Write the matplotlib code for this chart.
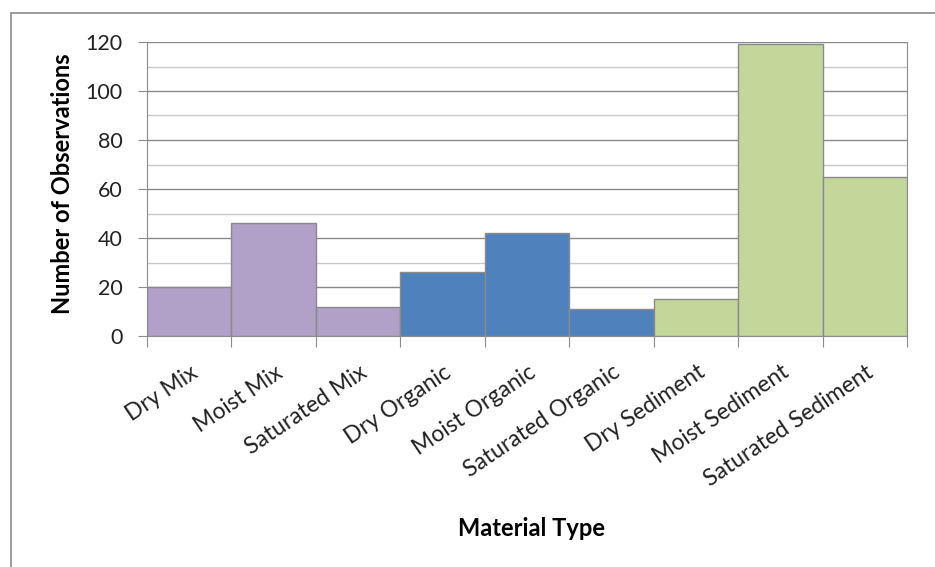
import numpy as np
import matplotlib
matplotlib.use('Agg')
import matplotlib.pyplot as plt
from matplotlib.patches import Rectangle
from matplotlib.ticker import MultipleLocator

# Data
categories = ['Dry Mix', 'Moist Mix', 'Saturated Mix',
              'Dry Organic', 'Moist Organic', 'Saturated Organic',
              'Dry Sediment', 'Moist Sediment', 'Saturated Sediment']
counts = [20, 46, 12, 26, 42, 11, 15, 119, 65]
groups = ['Mix', 'Mix', 'Mix', 'Organic', 'Organic', 'Organic',
          'Sediment', 'Sediment', 'Sediment']
y_ticks = [0, 20, 40, 60, 80, 100, 120]

group_color = {'Mix': '#b1a0c7', 'Organic': '#4f81bd', 'Sediment': '#c4d79b'}

plt.rc('font', family=['Lato', 'DejaVu Sans'])

fig = plt.figure(figsize=(9.35, 5.67), dpi=100)
ax = fig.add_axes([147/935, 1 - 336/567, 760/935, 294/567])

# outer chart border
fig.patches.append(Rectangle((11/935, -0.1), 1.2, 1 - 13/567 + 0.1,
                             transform=fig.transFigure, fill=False,
                             edgecolor='#8c8c8c', lw=1.2))

x = np.arange(len(categories))
ax.bar(x, counts, width=1.0, align='edge',
       color=[group_color[g] for g in groups],
       edgecolor='#8a8a8a', linewidth=1.0, zorder=3)

ax.set_xlim(0, len(categories))
ax.set_ylim(0, 120)
ax.set_yticks(y_ticks)
ax.yaxis.set_minor_locator(MultipleLocator(10))
ax.grid(which='major', axis='y', color='#8a8a8a', lw=1.0, zorder=0)
ax.grid(which='minor', axis='y', color='#c8c8c8', lw=1.0, zorder=0)
ax.tick_params(axis='y', which='major', length=6.5, color='#8c8c8c',
               labelsize=15.5, pad=11, labelcolor='#222222')
ax.tick_params(axis='y', which='minor', length=0)

# category boundary ticks below the axis
ax.set_xticks(np.arange(len(categories) + 1))
ax.set_xticklabels([])
ax.tick_params(axis='x', length=8, color='#8c8c8c')
for i, name in enumerate(categories):
    ax.text(i + 0.58, -14, name, rotation=34, rotation_mode='anchor',
            ha='right', va='center', fontsize=16.5, color='#222222')

for s in ['left', 'right', 'bottom']:
    ax.spines[s].set_color('#8c8c8c')
ax.spines['top'].set_visible(False)

fig.text(62/935, 1 - 184/567, 'Number of Observations', rotation=90,
         fontsize=17, fontweight='bold', ha='center', va='center')
fig.text(532/935, 1 - 528/567, 'Material Type', fontsize=17, fontweight='bold',
         ha='center', va='center')

fig.savefig('out.png', dpi=100)
